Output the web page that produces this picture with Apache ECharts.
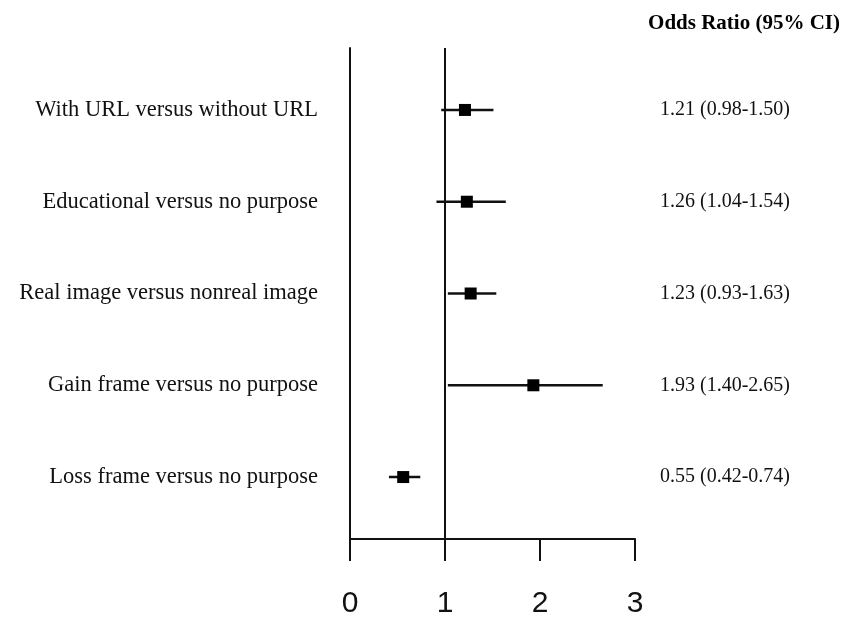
<!DOCTYPE html>
<html>
<head>
<meta charset="utf-8">
<script src="https://cdn.jsdelivr.net/npm/echarts@6/dist/echarts.min.js"></script>
<style>
  html, body { margin: 0; padding: 0; background: #fff; }
  #main { width: 843px; height: 619px; }
</style>
</head>
<body>
<div id="main"></div>
<script>
// comparisons, top to bottom
var names = [
  'With URL versus without URL',
  'Educational versus no purpose',
  'Real image versus nonreal image',
  'Gain frame versus no purpose',
  'Loss frame versus no purpose'
];
// point estimates and CI ends as drawn
var oddsRatio = [1.21, 1.23, 1.27, 1.93, 0.56];
var ciLow = [0.96, 0.91, 1.03, 1.03, 0.41];
var ciHigh = [1.51, 1.64, 1.54, 2.66, 0.74];
// printed text on the right
var orText = [
  '1.21 (0.98-1.50)',
  '1.26 (1.04-1.54)',
  '1.23 (0.93-1.63)',
  '1.93 (1.40-2.65)',
  '0.55 (0.42-0.74)'
];
var xTicks = [0, 1, 2, 3];

var serif = '"Liberation Serif", "DejaVu Serif", serif';
var sans = '"Liberation Sans", Arial, sans-serif';

var pointData = [];
var ciData = [];
var leftData = [];
var rightData = [];
for (var i = 0; i < names.length; i++) {
  pointData.push([oddsRatio[i], i + 1]);
  ciData.push([ciLow[i], ciHigh[i], i + 1]);
  leftData.push({ value: [xTicks[0], i + 1], name: names[i] });
  rightData.push({ value: [xTicks[xTicks.length - 1], i + 1], name: orText[i] });
}

var myChart = echarts.init(document.getElementById('main'));
var option = {
  backgroundColor: '#fff',
  animation: false,
  title: {
    text: 'Odds Ratio (95% CI)',
    right: 3,
    top: 13,
    padding: 0,
    textStyle: {
      fontFamily: serif,
      fontWeight: 'bold',
      fontSize: 21,
      color: '#000'
    }
  },
  grid: {
    left: 350,
    right: 208,
    top: 48,
    bottom: 73
  },
  xAxis: {
    type: 'value',
    min: xTicks[0],
    max: xTicks[xTicks.length - 1],
    interval: 1,
    axisLine: {
      show: true,
      onZero: false,
      lineStyle: { color: '#111', width: 2 }
    },
    axisTick: {
      show: true,
      length: 22,
      lineStyle: { color: '#111', width: 2 }
    },
    axisLabel: {
      color: '#111',
      fontFamily: sans,
      fontSize: 30,
      margin: 50
    },
    splitLine: { show: false }
  },
  yAxis: {
    type: 'value',
    inverse: true,
    min: 0.325,
    max: 5.675,
    axisLine: {
      show: true,
      onZero: false,
      lineStyle: { color: '#111', width: 2 }
    },
    axisTick: { show: false },
    axisLabel: { show: false },
    splitLine: { show: false }
  },
  series: [
    {
      type: 'custom',
      data: ciData,
      encode: { x: [0, 1], y: 2 },
      renderItem: function (params, api) {
        var a = api.coord([api.value(0), api.value(2)]);
        var b = api.coord([api.value(1), api.value(2)]);
        return {
          type: 'line',
          shape: { x1: a[0], y1: a[1], x2: b[0], y2: b[1] },
          style: { stroke: '#111', lineWidth: 2.5 }
        };
      },
      z: 3
    },
    {
      type: 'scatter',
      data: pointData,
      symbol: 'rect',
      symbolSize: 12,
      itemStyle: { color: '#000', opacity: 1 },
      z: 4,
      markLine: {
        silent: true,
        symbol: 'none',
        label: { show: false },
        lineStyle: { color: '#111', width: 2, type: 'solid' },
        data: [{ xAxis: 1 }]
      }
    },
    {
      type: 'scatter',
      data: leftData,
      symbolSize: 0,
      silent: true,
      itemStyle: { opacity: 1 },
      label: {
        show: true,
        position: 'left',
        distance: 32,
        formatter: '{b}',
        fontFamily: serif,
        fontSize: 22.5,
        color: '#111'
      }
    },
    {
      type: 'scatter',
      data: rightData,
      symbolSize: 0,
      silent: true,
      itemStyle: { opacity: 1 },
      label: {
        show: true,
        position: 'right',
        distance: 25,
        formatter: '{b}',
        fontFamily: serif,
        fontSize: 20,
        color: '#111'
      }
    }
  ]
};
option && myChart.setOption(option);
</script>
</body>
</html>
